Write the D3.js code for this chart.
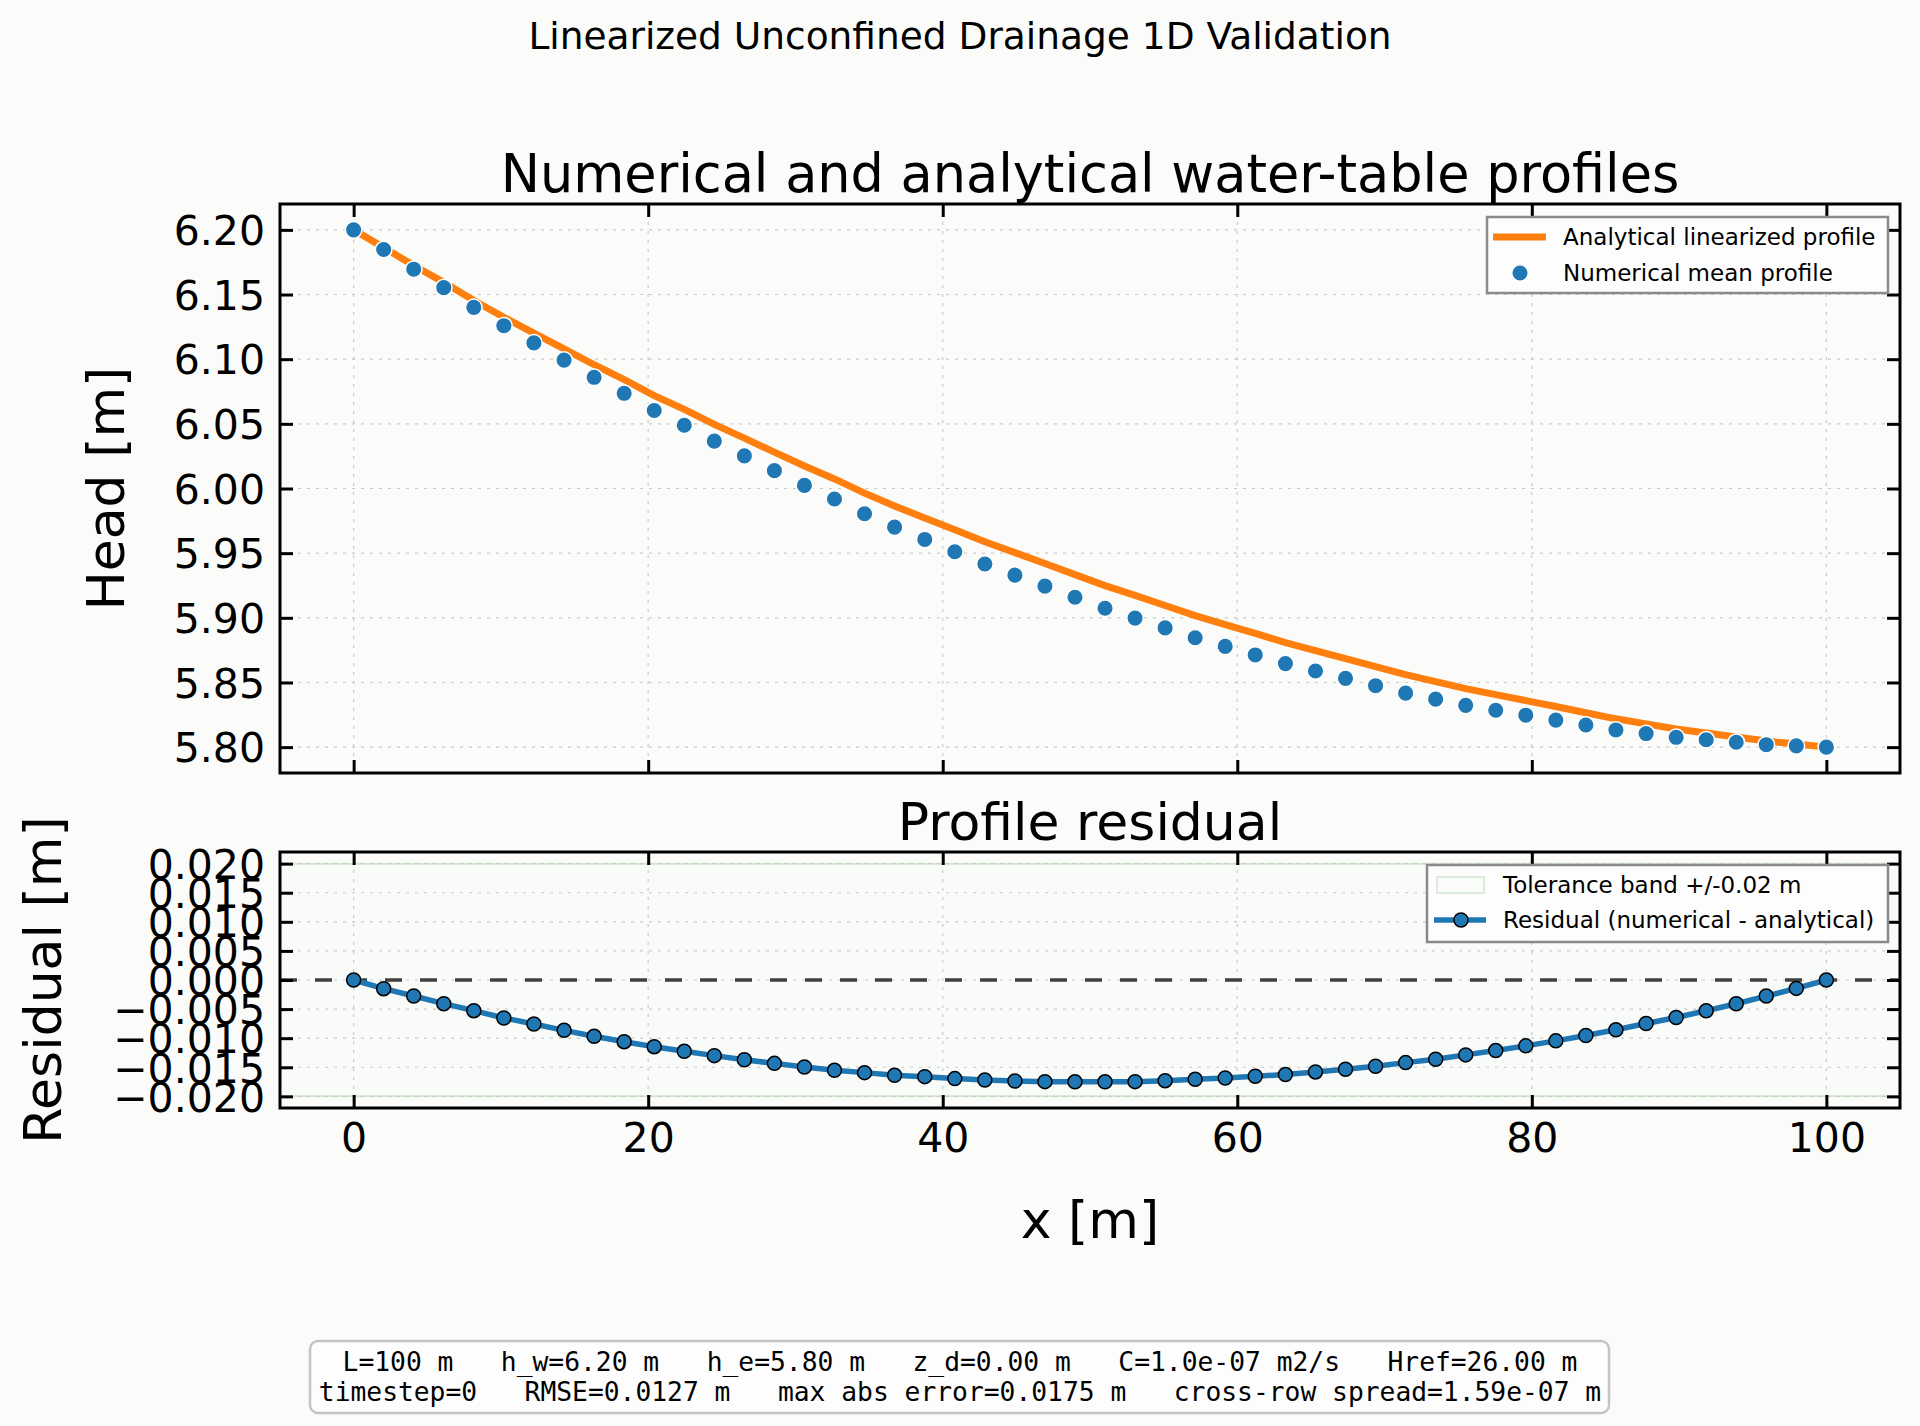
<!DOCTYPE html>
<html>
<head>
<meta charset="utf-8">
<script src="https://cdn.jsdelivr.net/npm/d3@7"></script>
<style>
  html, body { margin: 0; padding: 0; background: #fbfcfa; }
  svg { display: block; }
  text { font-family: "DejaVu Sans", sans-serif; fill: #000; }
</style>
</head>
<body>
<div id="chart"></div>
<script>
// grid nodes along the profile [m]
var xNodes = [0, 2.04, 4.08, 6.12, 8.16, 10.20, 12.24, 14.29, 16.33, 18.37,
    20.41, 22.45, 24.49, 26.53, 28.57, 30.61, 32.65, 34.69, 36.73, 38.78,
    40.82, 42.86, 44.90, 46.94, 48.98, 51.02, 53.06, 55.10, 57.14, 59.18,
    61.22, 63.27, 65.31, 67.35, 69.39, 71.43, 73.47, 75.51, 77.55, 79.59,
    81.63, 83.67, 85.71, 87.76, 89.80, 91.84, 93.88, 95.92, 97.96, 100];

// numerical mean profile
var headNumerical = [6.2000, 6.1848, 6.1696, 6.1553, 6.1401, 6.1259, 6.1126, 6.0993, 6.0860, 6.0736,
    6.0603, 6.0489, 6.0366, 6.0252, 6.0138, 6.0024, 5.9919, 5.9805, 5.9701, 5.9606,
    5.9511, 5.9416, 5.9330, 5.9245, 5.9159, 5.9074, 5.8998, 5.8922, 5.8846, 5.8779,
    5.8713, 5.8646, 5.8589, 5.8532, 5.8475, 5.8418, 5.8371, 5.8323, 5.8285, 5.8247,
    5.8209, 5.8171, 5.8133, 5.8105, 5.8076, 5.8057, 5.8038, 5.8019, 5.8010, 5.8000];

// analytical linearized profile
var headAnalytical = [6.2000, 6.1863, 6.1724, 6.1594, 6.1454, 6.1324, 6.1202, 6.1080, 6.0957, 6.0842,
    6.0718, 6.0612, 6.0496, 6.0389, 6.0281, 6.0174, 6.0074, 5.9964, 5.9865, 5.9772,
    5.9681, 5.9588, 5.9504, 5.9420, 5.9334, 5.9249, 5.9173, 5.9095, 5.9017, 5.8947,
    5.8879, 5.8809, 5.8747, 5.8685, 5.8623, 5.8560, 5.8507, 5.8452, 5.8406, 5.8360,
    5.8314, 5.8266, 5.8219, 5.8180, 5.8140, 5.8110, 5.8079, 5.8047, 5.8024, 5.8000];

// residual numerical - analytical
var residual = [0, -0.00149, -0.00275, -0.00407, -0.00527, -0.00653, -0.00756, -0.00865, -0.00968, -0.01060,
    -0.01146, -0.01226, -0.01300, -0.01370, -0.01433, -0.01496, -0.01552, -0.01592, -0.01638, -0.01661,
    -0.01695, -0.01718, -0.01736, -0.01747, -0.01750, -0.01750, -0.01747, -0.01730, -0.01707, -0.01684,
    -0.01655, -0.01626, -0.01580, -0.01534, -0.01483, -0.01420, -0.01362, -0.01287, -0.01213, -0.01132,
    -0.01046, -0.00954, -0.00856, -0.00747, -0.00644, -0.00529, -0.00408, -0.00276, -0.00144, 0];

var tolerance = 0.02;

var xTicks = [0, 20, 40, 60, 80, 100];
var headTicks = [5.80, 5.85, 5.90, 5.95, 6.00, 6.05, 6.10, 6.15, 6.20];
var resTicks = [-0.020, -0.015, -0.010, -0.005, 0.000, 0.005, 0.010, 0.015, 0.020];

var infoLines = [
    "L=100 m   h_w=6.20 m   h_e=5.80 m   z_d=0.00 m   C=1.0e-07 m2/s   Href=26.00 m",
    "timestep=0   RMSE=0.0127 m   max abs error=0.0175 m   cross-row spread=1.59e-07 m"
];

var width = 1920, height = 1426;
var left = 280, right = 1900;
var topBox = { y0: 204, y1: 773 };
var botBox = { y0: 852, y1: 1108 };

var blue = "#1f77b4", orange = "#ff7f0e";
var minus = function(s) { return s.replace("-", "\u2212"); };

var svg = d3.select("#chart").append("svg")
    .attr("width", width).attr("height", height)
    .style("background-color", "#fbfcfa");

var x = d3.scaleLinear().domain([-5, 105]).range([left, right]);
var yTop = d3.scaleLinear().domain([5.78, 6.22]).range([topBox.y1, topBox.y0]);
var yBot = d3.scaleLinear().domain([-0.022, 0.022]).range([botBox.y1, botBox.y0]);

// suptitle
svg.append("text").attr("x", 960).attr("y", 49)
    .attr("text-anchor", "middle").style("font-size", "37.5px")
    .text("Linearized Unconfined Drainage 1D Validation");

// dotted grid for one panel
function panel(g, y, yTicks, box) {
    g.append("g").selectAll("line").data(xTicks).enter().append("line")
        .attr("x1", d => x(d)).attr("x2", d => x(d))
        .attr("y1", box.y0).attr("y2", box.y1)
        .attr("stroke", "#c8ccc8").attr("stroke-width", 1.2).attr("stroke-dasharray", "3,6");
    g.append("g").selectAll("line").data(yTicks).enter().append("line")
        .attr("x1", left).attr("x2", right)
        .attr("y1", d => y(d)).attr("y2", d => y(d))
        .attr("stroke", "#c8ccc8").attr("stroke-width", 1.2).attr("stroke-dasharray", "3,6");
}

// spines + inward ticks on all four sides
function frame(g, y, yTicks, fmt, box, showX) {
    var tl = 13, tw = 3;
    var axL = d3.axisLeft(y).tickValues(yTicks).tickFormat(d => minus(fmt(d))).tickSizeInner(-tl).tickSizeOuter(0).tickPadding(15);
    var axR = d3.axisRight(y).tickValues(yTicks).tickFormat("").tickSizeInner(-tl).tickSizeOuter(0);
    var axB = d3.axisBottom(x).tickValues(xTicks).tickFormat(showX ? d3.format("d") : "").tickSizeInner(-tl).tickSizeOuter(0).tickPadding(15);
    var axT = d3.axisTop(x).tickValues(xTicks).tickFormat("").tickSizeInner(-tl).tickSizeOuter(0);

    var gl = g.append("g").attr("transform", "translate(" + left + ",0)").call(axL);
    var gr = g.append("g").attr("transform", "translate(" + right + ",0)").call(axR);
    var gb = g.append("g").attr("transform", "translate(0," + box.y1 + ")").call(axB);
    var gt = g.append("g").attr("transform", "translate(0," + box.y0 + ")").call(axT);
    [gl, gr, gb, gt].forEach(function(a) {
        a.select(".domain").remove();
        a.selectAll(".tick line").attr("stroke", "#000").attr("stroke-width", tw);
        a.selectAll(".tick text").style("font-size", "41px").attr("fill", "#000")
            .style("font-family", "DejaVu Sans");
    });
    gl.selectAll(".tick text").attr("dy", "0.36em");
    gb.selectAll(".tick text").attr("dy", "0.71em");

    g.append("rect").attr("x", left).attr("y", box.y0)
        .attr("width", right - left).attr("height", box.y1 - box.y0)
        .attr("fill", "none").attr("stroke", "#000").attr("stroke-width", 3);
}

// ---------------- top panel ----------------
var gTop = svg.append("g");
panel(gTop, yTop, headTicks, topBox);

gTop.append("path").datum(d3.zip(xNodes, headAnalytical))
    .attr("d", d3.line().x(d => x(d[0])).y(d => yTop(d[1])))
    .attr("fill", "none").attr("stroke", orange).attr("stroke-width", 7);

gTop.selectAll("circle.num").data(d3.zip(xNodes, headNumerical)).enter().append("circle")
    .attr("class", "num")
    .attr("cx", d => x(d[0])).attr("cy", d => yTop(d[1])).attr("r", 8.3)
    .attr("fill", blue).attr("stroke", "#fff").attr("stroke-width", 1.5);

frame(gTop, yTop, headTicks, d3.format(".2f"), topBox, false);

svg.append("text").attr("x", (left + right) / 2).attr("y", 192)
    .attr("text-anchor", "middle").style("font-size", "52.5px")
    .text("Numerical and analytical water-table profiles");

svg.append("text").attr("transform", "translate(124," + (topBox.y0 + topBox.y1) / 2 + ") rotate(-90)")
    .attr("text-anchor", "middle").style("font-size", "52px")
    .text("Head [m]");

// legend top
var lg1 = svg.append("g");
lg1.append("rect").attr("x", 1487).attr("y", 217).attr("width", 401).attr("height", 76)
    .attr("fill", "#fdfdfd").attr("stroke", "#8a8a8a").attr("stroke-width", 2.5);
lg1.append("line").attr("x1", 1493).attr("x2", 1546).attr("y1", 237).attr("y2", 237)
    .attr("stroke", orange).attr("stroke-width", 7);
lg1.append("circle").attr("cx", 1520).attr("cy", 273).attr("r", 8.3)
    .attr("fill", blue).attr("stroke", "#fff").attr("stroke-width", 1.5);
lg1.append("text").attr("x", 1563).attr("y", 245).style("font-size", "23px").text("Analytical linearized profile");
lg1.append("text").attr("x", 1563).attr("y", 281).style("font-size", "23px").text("Numerical mean profile");

// ---------------- bottom panel ----------------
var gBot = svg.append("g");

// tolerance band
gBot.append("rect").attr("x", left).attr("width", right - left)
    .attr("y", yBot(tolerance)).attr("height", yBot(-tolerance) - yBot(tolerance))
    .attr("fill", "#2ca02c").attr("fill-opacity", 0.008);
gBot.selectAll("line.tol").data([tolerance, -tolerance]).enter().append("line")
    .attr("class", "tol")
    .attr("x1", left).attr("x2", right).attr("y1", d => yBot(d)).attr("y2", d => yBot(d))
    .attr("stroke", "#d3e6d0").attr("stroke-width", 2);

panel(gBot, yBot, resTicks, botBox);

gBot.append("line").attr("x1", left).attr("x2", right)
    .attr("y1", yBot(0)).attr("y2", yBot(0))
    .attr("stroke", "#404040").attr("stroke-width", 3.3).attr("stroke-dasharray", "17,18");

gBot.append("path").datum(d3.zip(xNodes, residual))
    .attr("d", d3.line().x(d => x(d[0])).y(d => yBot(d[1])))
    .attr("fill", "none").attr("stroke", blue).attr("stroke-width", 5.5);

gBot.selectAll("circle.res").data(d3.zip(xNodes, residual)).enter().append("circle")
    .attr("class", "res")
    .attr("cx", d => x(d[0])).attr("cy", d => yBot(d[1])).attr("r", 7)
    .attr("fill", blue).attr("stroke", "#000").attr("stroke-width", 1.5);

frame(gBot, yBot, resTicks, d3.format(".3f"), botBox, true);

svg.append("text").attr("x", (left + right) / 2).attr("y", 840)
    .attr("text-anchor", "middle").style("font-size", "52px")
    .text("Profile residual");

svg.append("text").attr("transform", "translate(61," + (botBox.y0 + botBox.y1) / 2 + ") rotate(-90)")
    .attr("text-anchor", "middle").style("font-size", "52px")
    .text("Residual [m]");

svg.append("text").attr("x", (left + right) / 2).attr("y", 1238)
    .attr("text-anchor", "middle").style("font-size", "52px")
    .text("x [m]");

// legend bottom
var lg2 = svg.append("g");
lg2.append("rect").attr("x", 1427).attr("y", 865).attr("width", 461).attr("height", 77)
    .attr("fill", "#fdfdfd").attr("stroke", "#8a8a8a").attr("stroke-width", 2.5);
lg2.append("rect").attr("x", 1437).attr("y", 877).attr("width", 47).attr("height", 16)
    .attr("fill", "#fbfdfa").attr("stroke", "#d2e6d0").attr("stroke-width", 1.5);
lg2.append("line").attr("x1", 1434).attr("x2", 1486).attr("y1", 920).attr("y2", 920)
    .attr("stroke", blue).attr("stroke-width", 5.5);
lg2.append("circle").attr("cx", 1461).attr("cy", 920).attr("r", 7)
    .attr("fill", blue).attr("stroke", "#000").attr("stroke-width", 1.5);
lg2.append("text").attr("x", 1503).attr("y", 893).style("font-size", "23px").text("Tolerance band +/-0.02 m");
lg2.append("text").attr("x", 1503).attr("y", 928).style("font-size", "23px").text("Residual (numerical - analytical)");

// ---------------- info box ----------------
var info = svg.append("g");
info.append("rect").attr("x", 310).attr("y", 1341).attr("width", 1299).attr("height", 72)
    .attr("rx", 8).attr("ry", 8)
    .attr("fill", "#fdfdfd").attr("stroke", "#c4c4c4").attr("stroke-width", 2.5);
info.selectAll("text").data(infoLines).enter().append("text")
    .attr("x", 960).attr("y", (d, i) => 1371 + i * 30)
    .attr("text-anchor", "middle")
    .style("font-family", "'DejaVu Sans Mono', monospace").style("font-size", "26.3px")
    .style("white-space", "pre").attr("xml:space", "preserve")
    .text(d => d);
</script>
</body>
</html>
